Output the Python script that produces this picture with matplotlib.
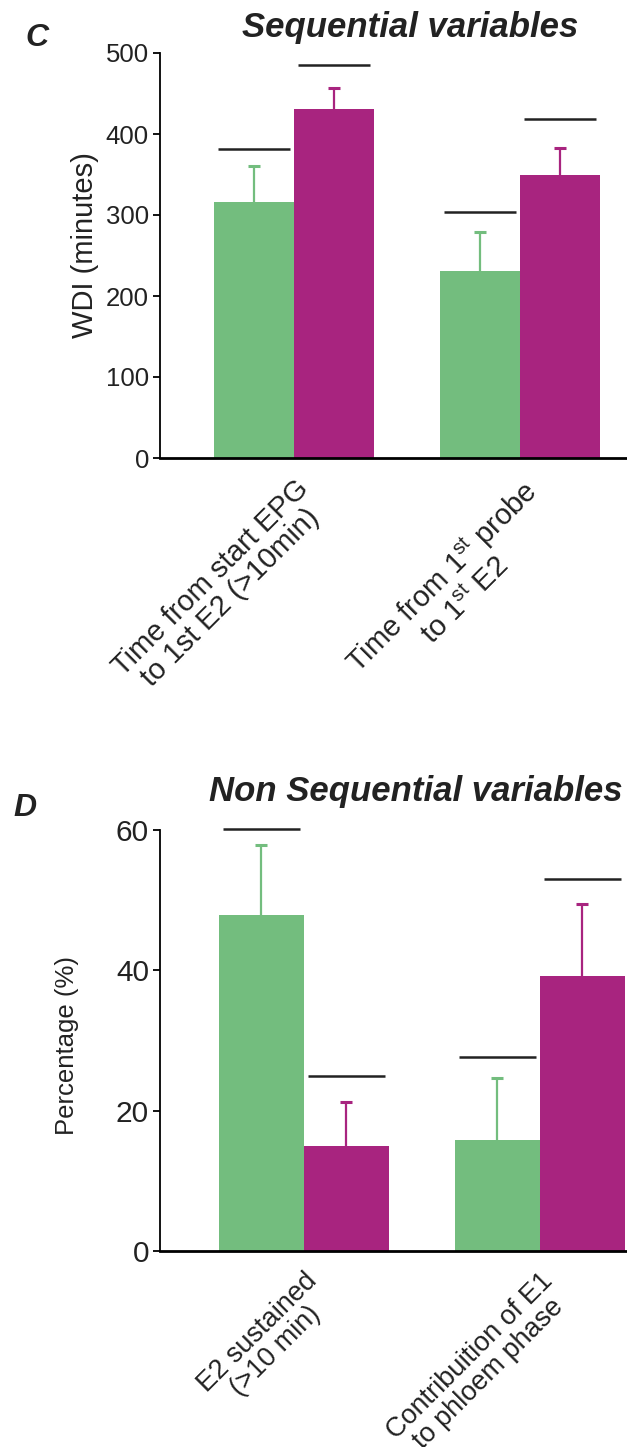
import matplotlib
matplotlib.use("Agg")
import matplotlib.pyplot as plt
import matplotlib.transforms as mtransforms
import numpy as np

plt.rcParams['font.family'] = ['Liberation Sans', 'DejaVu Sans']
plt.rcParams['mathtext.fontset'] = 'custom'
plt.rcParams['mathtext.rm'] = 'Liberation Sans'
plt.rcParams['mathtext.it'] = 'Liberation Sans:italic'
plt.rcParams['mathtext.bf'] = 'Liberation Sans:bold'

GREEN = '#73bd7e'
MAGENTA = '#a8247f'
DARK = '#222222'

# panel C - sequential variables
labels_c = ["Time from start EPG\nto 1st E2 (>10min)",
            "Time from 1$^{\\mathrm{st}}$ probe\nto 1$^{\\mathrm{st}}$ E2"]
green_c = [316, 231]
green_c_err = [44, 48]
mag_c = [431, 350]
mag_c_err = [26, 33]
sig_green_c = [381, 304]
sig_mag_c = [485, 419]
yticks_c = [0, 100, 200, 300, 400, 500]

# panel D - non sequential variables
labels_d = ["E2 sustained\n(>10 min)",
            "Contribuition of E1\nto phloem phase"]
green_d = [47.9, 15.8]
green_d_err = [9.9, 8.8]
mag_d = [15.0, 39.2]
mag_d_err = [6.2, 10.2]
sig_green_d = [60.1, 27.6]
sig_mag_d = [24.9, 53.0]
yticks_d = [0, 20, 40, 60]

W, H = 627, 1447
fig = plt.figure(figsize=(W / 100, H / 100), dpi=100)


def px_axes(left, top, right, bottom):
    return fig.add_axes([left / W, 1 - bottom / H, (right - left) / W, (bottom - top) / H])


def upper_errorbar(ax, x, y, err, color):
    eb = ax.errorbar(x, y, yerr=[np.zeros(len(y)), err], fmt='none', ecolor=color,
                     elinewidth=1.6, capsize=4.5, capthick=2.2, zorder=1)
    # only keep the upper cap
    eb[1][0].set_visible(False)


def draw_panel(ax, labels, g, g_err, m, m_err, sig_g, sig_m, yticks, width, xlim,
               tickfs, labelfs, xshift):
    x = np.arange(len(labels))
    xg = x - width / 2
    xm = x + width / 2
    ax.bar(xg, g, width, color=GREEN, zorder=2)
    ax.bar(xm, m, width, color=MAGENTA, zorder=2)
    upper_errorbar(ax, xg, g, g_err, GREEN)
    upper_errorbar(ax, xm, m, m_err, MAGENTA)
    ax.hlines(sig_g, xg - width * 0.45, xg + width * 0.45, color=DARK, lw=1.8, clip_on=False)
    ax.hlines(sig_m, xm - width * 0.45, xm + width * 0.45, color=DARK, lw=1.8, clip_on=False)

    ax.set_xlim(*xlim)
    ax.set_ylim(yticks[0], yticks[-1])
    ax.set_yticks(yticks)
    ax.set_yticklabels([str(t) for t in yticks], fontsize=tickfs, color=DARK)
    ax.set_xticks(x)
    ax.set_xticklabels(labels, rotation=45, ha='right', rotation_mode='anchor',
                       fontsize=labelfs, color=DARK, multialignment='center', linespacing=1.0)
    off = mtransforms.ScaledTranslation(xshift / 72, 0, fig.dpi_scale_trans)
    for lab in ax.get_xticklabels():
        lab.set_transform(lab.get_transform() + off)
    ax.tick_params(axis='x', length=0, pad=12)
    ax.tick_params(axis='y', direction='out', length=5, width=1.3, pad=3)
    for s in ['top', 'right']:
        ax.spines[s].set_visible(False)
    ax.spines['left'].set_linewidth(1.3)
    ax.spines['bottom'].set_linewidth(2.0)


axc = px_axes(160, 53, 627, 458)
draw_panel(axc, labels_c, green_c, green_c_err, mag_c, mag_c_err, sig_green_c, sig_mag_c,
           yticks_c, 0.354, (-0.593, 1.473), 18.5, 21, 8)
axc.text(-0.16, 0.526, "WDI (minutes)", transform=axc.transAxes, rotation=90,
         ha='center', va='center', fontsize=21, color=DARK)

axd = px_axes(160, 830, 627, 1251)
draw_panel(axd, labels_d, green_d, green_d_err, mag_d, mag_d_err, sig_green_d, sig_mag_d,
           yticks_d, 0.36, (-0.61, 1.369), 21.5, 19.5, 8)
axd.text(-0.199, 0.489, "Percentage (%)", transform=axd.transAxes, rotation=90,
         ha='center', va='center', fontsize=18.5, color=DARK)

fig.text(410 / W, 1 - 27 / H, "Sequential variables", ha='center', va='center',
         fontsize=25, fontweight='bold', fontstyle='italic', color=DARK)
fig.text(37 / W, 1 - 38 / H, "C", ha='center', va='center',
         fontsize=23, fontweight='bold', fontstyle='italic', color=DARK)
fig.text(416 / W, 1 - 792 / H, "Non Sequential variables", ha='center', va='center',
         fontsize=25, fontweight='bold', fontstyle='italic', color=DARK)
fig.text(25 / W, 1 - 808 / H, "D", ha='center', va='center',
         fontsize=23, fontweight='bold', fontstyle='italic', color=DARK)

fig.savefig("out.png", dpi=100)
